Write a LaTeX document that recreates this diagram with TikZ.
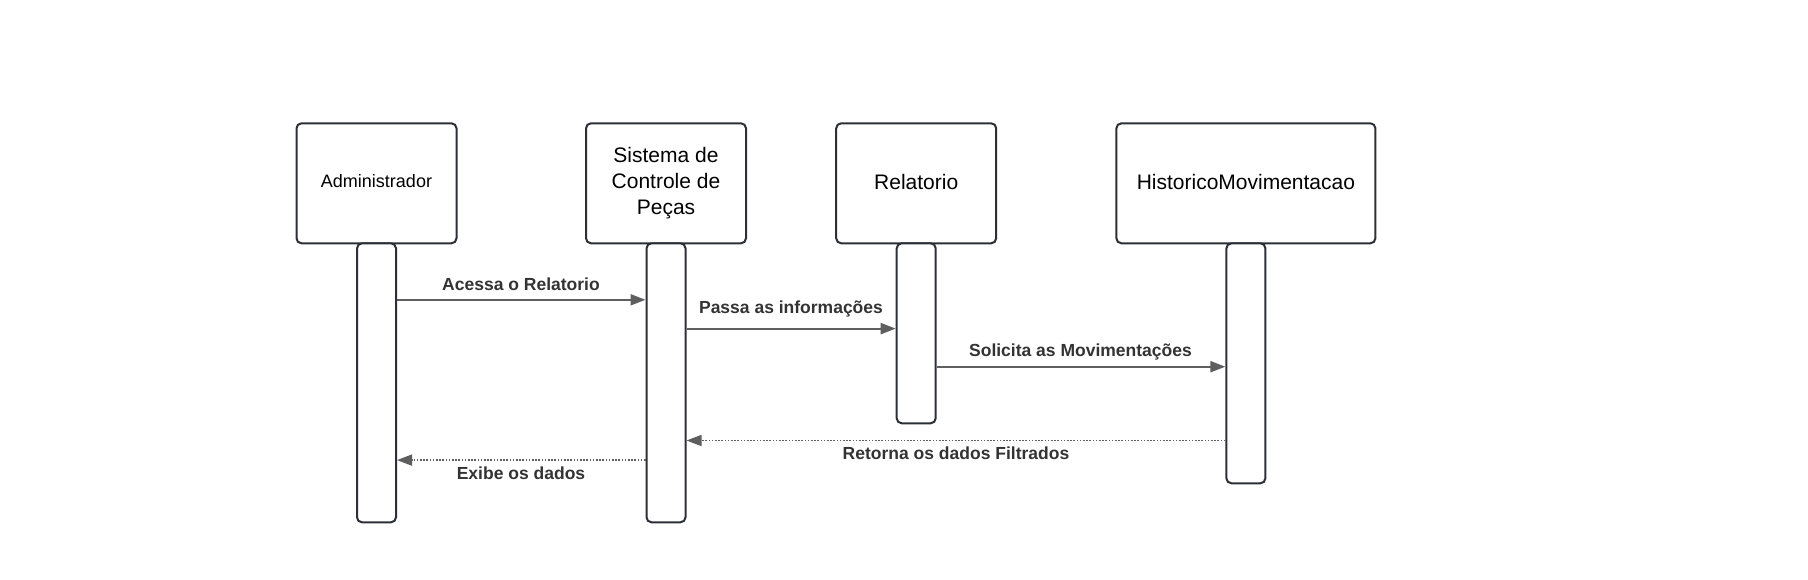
\documentclass[tikz,border=0pt]{standalone}
\usepackage{fontspec}
\setmainfont{Liberation Sans}
\usetikzlibrary{arrows.meta,positioning}
\definecolor{boxline}{HTML}{2B2F36}
\definecolor{arrowc}{HTML}{5E5E5E}
\definecolor{labelc}{HTML}{333333}
\tikzset{
  actor/.style={draw=boxline, line width=2pt, rounded corners=5pt, fill=white,
    minimum height=120pt, align=center, inner sep=0pt,
    font=\fontsize{21}{26}\selectfont, text=black},
  lifebar/.style={draw=boxline, line width=2pt, rounded corners=5pt, fill=white,
    minimum width=39pt, inner sep=0pt, anchor=north, yshift=2pt},
  msg/.style={draw=arrowc, line width=2pt, -{Triangle[length=15pt,width=11pt]}},
  reply/.style={draw=arrowc, line width=1.6pt, dash pattern=on 1.6pt off 1.6pt,
    -{Triangle[length=15pt,width=11pt]}},
  lbl/.style={font=\fontsize{17.5}{21}\selectfont\bfseries, text=labelc, inner sep=0pt}
}
\begin{document}
\begin{tikzpicture}[x=1pt,y=-1pt]
\useasboundingbox (0,0) rectangle (1808,579);
% actors
\node[actor, minimum width=160pt, font=\fontsize{18}{22}\selectfont] (adm) at (376.5,183.3) {\raisebox{2.5pt}[\height][\depth]{Administrador}};
\node[actor, minimum width=160pt] (sis) at (666,183.3) {Sistema de\\Controle de\\Peças};
\node[actor, minimum width=160pt] (rel) at (916.2,183.3) {\raisebox{1.5pt}[\height][\depth]{Relatorio}};
\node[actor, minimum width=259pt] (his) at (1245.9,183.3) {\raisebox{1.5pt}[\height][\depth]{HistoricoMovimentacao}};
% lifelines
\node[lifebar, minimum height=279pt] (ladm) at (adm.south) {};
\node[lifebar, minimum height=279pt] (lsis) at (sis.south) {};
\node[lifebar, minimum height=180pt] (lrel) at (rel.south) {};
\node[lifebar, minimum height=240pt] (lhis) at (his.south) {};
% messages
\draw[msg] (ladm.east |- 0,299.8) -- (lsis.west |- 0,299.8);
\node[lbl] (l1) at (521,284) {Acessa o Relatorio};
\draw[msg] (lsis.east |- 0,328.6) -- (lrel.west |- 0,328.6);
\node[lbl] (l2) at (791,308.7) {Passa as informações};
\draw[msg] (lrel.east |- 0,366.7) -- (lhis.west |- 0,366.7);
\node[lbl] (l3) at (1080.5,351.6) {Solicita as Movimentações};
\draw[reply] (lhis.west |- 0,440.5) -- (lsis.east |- 0,440.5);
\node[lbl] (l4) at (956,453.2) {Retorna os dados Filtrados};
\draw[reply] (lsis.west |- 0,460.1) -- (ladm.east |- 0,460.1);
\node[lbl] (l5) at (521,472.8) {Exibe os dados};
\end{tikzpicture}
\end{document}
